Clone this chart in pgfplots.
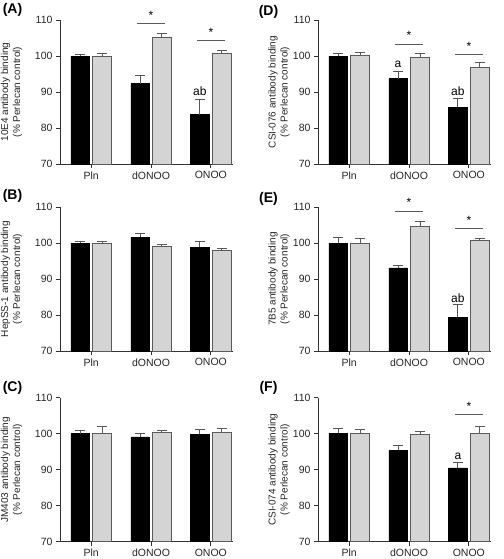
\documentclass[border=0pt]{standalone}
\usepackage{pgfplots}
\pgfplotsset{compat=1.18}
\usepackage{fontspec}
\setmainfont{Liberation Sans}
\definecolor{barg}{HTML}{D4D4D4}
\definecolor{edgeg}{HTML}{5A5A5A}
\definecolor{errk}{HTML}{555555}
\definecolor{axc}{HTML}{333333}
\pgfplotsset{
 panel/.style={
  scale only axis, width=173pt, height=144pt,
  xmin=-0.52, xmax=2.37, ymin=70, ymax=110,
  ytick={70,80,90,100,110},
  xtick={0,1,2}, xticklabels={Pln,dONOO,ONOO},
  axis x line*=bottom, axis y line*=left,
  axis line style={draw=axc, line width=0.8pt},
  tick style={draw=axc, line width=0.8pt},
  tick align=outside, major tick length=4pt,
  clip mode=individual,
  tick label style={font=\fontsize{10.5}{12}\selectfont, text=black!85},
  ylabel style={font=\fontsize{10}{12}\selectfont, align=center, anchor=center, text=black!85},
  /pgf/number format/assume math mode=true,
  ybar, bar width=0.308,
 },
 blk/.style={fill=black, draw=black, line width=0.6pt, bar shift=-0.183,
  error bars/.cd, y dir=plus, y explicit, error mark=|,
  error bar style={draw=errk, line width=0.9pt},
  error mark options={draw=errk, line width=0.9pt, mark size=5pt}},
 gry/.style={fill=barg, draw=edgeg, line width=0.8pt, bar shift=0.183,
  error bars/.cd, y dir=plus, y explicit, error mark=|,
  error bar style={draw=edgeg, line width=0.9pt},
  error mark options={draw=edgeg, line width=0.9pt, mark size=5pt}},
 leftcol/.style={ylabel style={at={(axis description cs:-0.28,0.5)}}},
 rightcol/.style={ylabel style={at={(axis description cs:-0.225,0.5)}}},
}
\newcommand{\sig}[2]{%
 \draw[edgeg, line width=0.8pt] (axis cs:#1-0.23,#2) -- (axis cs:#1+0.23,#2);
 \node[font=\fontsize{12}{12}\selectfont, inner sep=0pt, anchor=center] at (axis cs:#1,#2+2.3) {*};}
\newcommand{\lab}[3]{\node[font=\fontsize{12}{12}\selectfont, inner sep=0pt, anchor=base] at (axis cs:#1-0.183,#2) {#3};}
\begin{document}
\begin{tikzpicture}
\path[use as bounding box] (0,0) rectangle (503pt,-559pt);
% (A)
\begin{axis}[panel, leftcol, at={(60pt,-164pt)}, anchor=south west,
  ylabel={10E4 antibody binding\\(\% Perlecan control)}]
\addplot[blk] coordinates {(0,100.0) +- (0,0.5) (1,92.3) +- (0,2.4) (2,83.7) +- (0,4.3)};
\addplot[gry] coordinates {(0,100.0) +- (0,0.8) (1,105.3) +- (0,0.9) (2,100.6) +- (0,1.0)};
\sig{1}{109.1}
\sig{2}{104.4}
\lab{2}{88.9}{ab}
\end{axis}
% (B)
\begin{axis}[panel, leftcol, at={(60pt,-351pt)}, anchor=south west,
  ylabel={HepSS-1 antibody binding\\(\% Perlecan control)}]
\addplot[blk] coordinates {(0,100.0) +- (0,0.5) (1,101.6) +- (0,1.1) (2,98.8) +- (0,1.5)};
\addplot[gry] coordinates {(0,100.0) +- (0,0.4) (1,99.0) +- (0,0.7) (2,97.9) +- (0,0.5)};
\end{axis}
% (C)
\begin{axis}[panel, leftcol, at={(60pt,-541.7pt)}, anchor=south west,
  ylabel={JM403 antibody binding\\(\% Perlecan control)}]
\addplot[blk] coordinates {(0,100.0) +- (0,0.8) (1,99.1) +- (0,1.1) (2,99.9) +- (0,1.4)};
\addplot[gry] coordinates {(0,100.0) +- (0,1.9) (1,100.4) +- (0,0.6) (2,100.4) +- (0,1.1)};
\end{axis}
% (D)
\begin{axis}[panel, rightcol, at={(318pt,-164pt)}, anchor=south west,
  ylabel={CSI-076 antibody binding\\(\% Perlecan control)}]
\addplot[blk] coordinates {(0,100.0) +- (0,0.7) (1,93.7) +- (0,2.1) (2,85.8) +- (0,2.5)};
\addplot[gry] coordinates {(0,100.1) +- (0,0.9) (1,99.7) +- (0,1.0) (2,96.9) +- (0,1.2)};
\sig{1}{103.3}
\sig{2}{100.5}
\lab{1}{96.8}{a}
\lab{2}{89.0}{ab}
\end{axis}
% (E)
\begin{axis}[panel, rightcol, at={(318pt,-351pt)}, anchor=south west,
  ylabel={7B5 antibody binding\\(\% Perlecan control)}]
\addplot[blk] coordinates {(0,100.0) +- (0,1.5) (1,93.1) +- (0,0.7) (2,79.4) +- (0,3.4)};
\addplot[gry] coordinates {(0,100.0) +- (0,1.4) (1,104.6) +- (0,1.4) (2,100.6) +- (0,0.8)};
\sig{1}{108.9}
\sig{2}{104.0}
\lab{2}{83.5}{ab}
\end{axis}
% (F)
\begin{axis}[panel, rightcol, at={(318pt,-541.7pt)}, anchor=south west,
  ylabel={CSI-074 antibody binding\\(\% Perlecan control)}]
\addplot[blk] coordinates {(0,100.1) +- (0,1.4) (1,95.4) +- (0,1.4) (2,90.5) +- (0,1.4)};
\addplot[gry] coordinates {(0,100.0) +- (0,1.1) (1,99.7) +- (0,0.9) (2,100.1) +- (0,1.8)};
\sig{2}{105.4}
\lab{2}{92.8}{a}
\end{axis}
\node[font=\bfseries\fontsize{14}{16}\selectfont] at (12.5pt,-9.5pt) {(A)};
\node[font=\bfseries\fontsize{14}{16}\selectfont] at (12.5pt,-195.5pt) {(B)};
\node[font=\bfseries\fontsize{14}{16}\selectfont] at (12.5pt,-387.5pt) {(C)};
\node[font=\bfseries\fontsize{14}{16}\selectfont] at (268.5pt,-11.5pt) {(D)};
\node[font=\bfseries\fontsize{14}{16}\selectfont] at (268.5pt,-199pt) {(E)};
\node[font=\bfseries\fontsize{14}{16}\selectfont] at (268.5pt,-387.5pt) {(F)};
\end{tikzpicture}
\end{document}
